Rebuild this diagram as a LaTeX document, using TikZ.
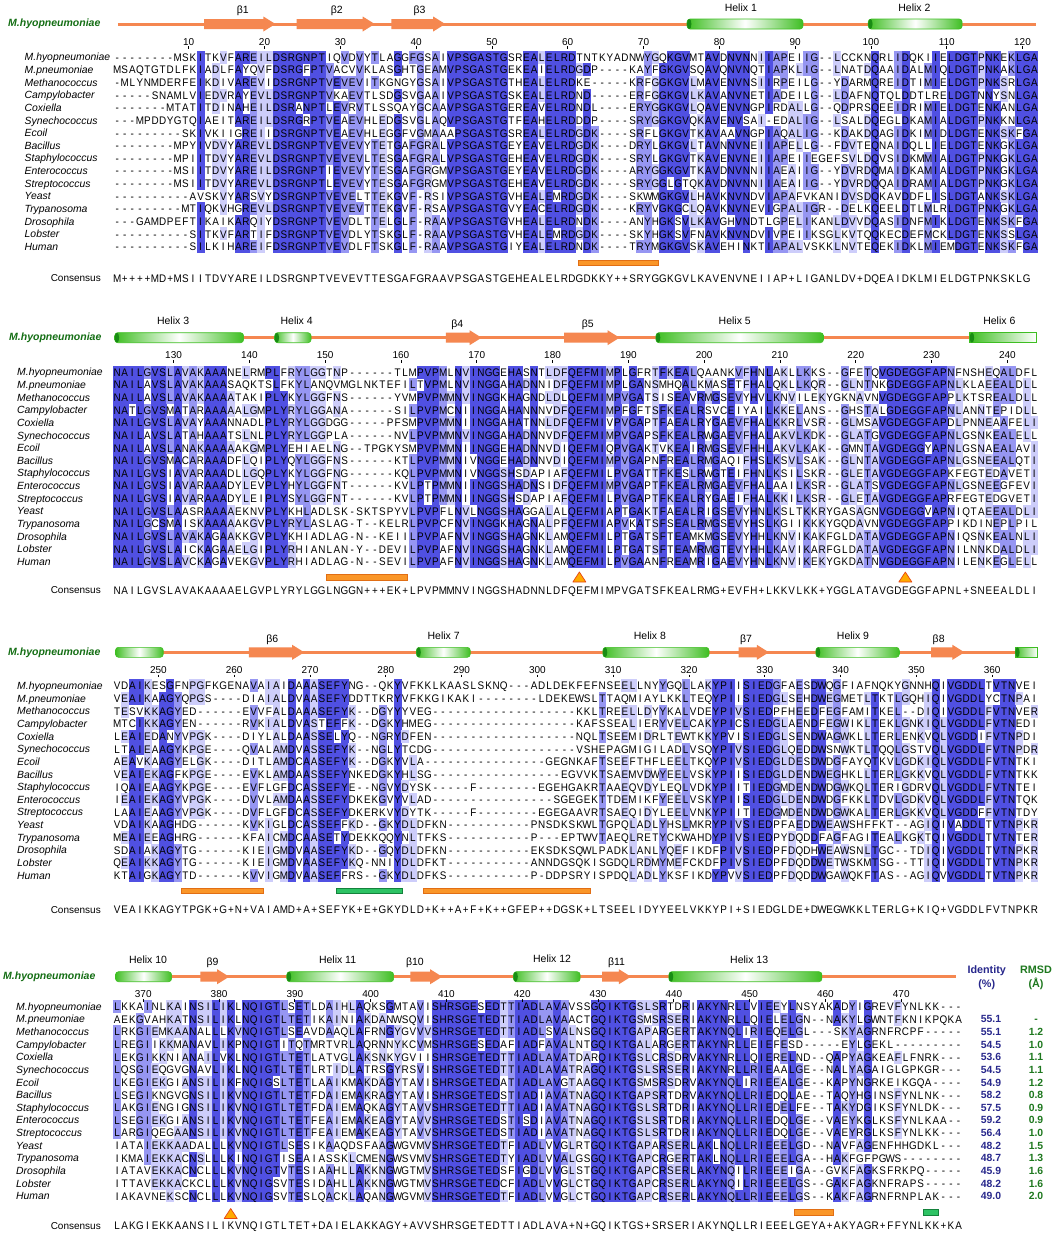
\documentclass[tikz,border=0pt]{standalone}
\usepackage{fontspec}
\setmainfont{Liberation Sans}
\newfontfamily\seqfont{Liberation Sans}[FakeStretch=0.9]
\usepackage{xcolor}
\usepackage{tikz}

\definecolor{seq_shade1}{RGB}{205, 205, 250}
\definecolor{seq_shade2}{RGB}{150, 150, 242}
\definecolor{seq_shade3}{RGB}{80, 80, 226}
\definecolor{ss_orange}{RGB}{245, 135, 80}
\definecolor{ss_green}{RGB}{62, 190, 34}
\definecolor{ss_dgreen}{RGB}{25, 140, 20}
\definecolor{title_green}{RGB}{20, 110, 20}
\definecolor{id_blue}{RGB}{40, 40, 140}
\definecolor{rmsd_green}{RGB}{30, 120, 30}
\definecolor{bar_orange}{RGB}{250, 150, 40}
\definecolor{bar_edge}{RGB}{225, 110, 20}
\definecolor{bar_green}{RGB}{45, 195, 100}
\definecolor{bar_gedge}{RGB}{20, 130, 60}
\definecolor{site_fill}{RGB}{255, 170, 0}
\definecolor{site_edge}{RGB}{230, 70, 20}

% alignment store and percent identity shading
\ExplSyntaxOn
\int_new:N \l_aln_col_int
\int_new:N \l_aln_cnt_int
\int_new:N \l_aln_max_int
\NewDocumentCommand \alnseq { m m m }
  {
    \int_zero:N \l_aln_col_int
    \tl_map_inline:nn {#3}
      {
        \int_incr:N \l_aln_col_int
        \tl_gset:cn { g_aln_#1_#2_ \int_use:N \l_aln_col_int _tl } {##1}
      }
    \int_compare:nNnT {#2} = {1}
      { \tl_gset:cx { g_aln_len_#1_tl } { \int_use:N \l_aln_col_int } }
  }
\NewDocumentCommand \alnshade { m }
  {
    \int_step_inline:nn { \use:c { g_aln_len_#1_tl } }
      {
        \int_zero:N \l_aln_max_int
        \int_step_inline:nn { 16 }
          {
            \int_zero:N \l_aln_cnt_int
            \str_if_eq:eeF { \use:c { g_aln_#1_####1_##1_tl } } { - }
              {
                \int_step_inline:nn { 16 }
                  {
                    \str_if_eq:eeT
                      { \use:c { g_aln_#1_####1_##1_tl } }
                      { \use:c { g_aln_#1_########1_##1_tl } }
                      { \int_incr:N \l_aln_cnt_int }
                  }
              }
            \tl_gset:cx { g_aln_n_#1_####1_##1_tl } { \int_use:N \l_aln_cnt_int }
            \int_compare:nNnT { \l_aln_cnt_int } > { \l_aln_max_int }
              { \int_set_eq:NN \l_aln_max_int \l_aln_cnt_int }
          }
        \int_step_inline:nn { 16 }
          {
            \tl_gset:cx { g_aln_s_#1_####1_##1_tl }
              {
                \int_compare:nNnTF { \use:c { g_aln_n_#1_####1_##1_tl } } = { \l_aln_max_int }
                  {
                    \int_compare:nNnTF { \l_aln_max_int } > { 12 } { 3 }
                      {
                        \int_compare:nNnTF { \l_aln_max_int } > { 9 } { 2 }
                          { \int_compare:nNnTF { \l_aln_max_int } > { 6 } { 1 } { 0 } }
                      }
                  }
                  { 0 }
              }
          }
      }
  }
\cs_new_protected:Npn \aln_cell:nn #1#2
  {
    \int_compare:nNnT { #1 } > { 0 }
      { \rlap { \color { seq_shade#1 } \rule [ -2.37pt ] { 7.9pt } { 12.95pt } } }
    \makebox [ 7.58pt ] { #2 }
  }
\cs_generate_variant:Nn \aln_cell:nn { ee }
\NewDocumentCommand \alnrow { m m }
  {
    \int_step_inline:nn { \use:c { g_aln_len_#1_tl } }
      { \aln_cell:ee { \use:c { g_aln_s_#1_#2_##1_tl } } { \use:c { g_aln_#1_#2_##1_tl } } }
  }
\NewDocumentCommand \alncons { m m }
  { \tl_gset:cn { g_aln_cons_#1_tl } {#2} }
\NewDocumentCommand \alnconsrow { m }
  { \tl_map_inline:cn { g_aln_cons_#1_tl } { \makebox [ 7.58pt ] {##1} } }
\ExplSyntaxOff

% block 1
\alnseq{1}{1}{--------MSKITKVFAREILDSRGNPTIQVDVYTLAGGFGSAIVPSGASTGSREALELRDTNTKYADNWYGQKGVMTAVDNVNNIIAPEIIG--LCCKNQRLIDQKIIELDGTPNKEKLGA}
\alnseq{1}{2}{MSAQTGTDLFKIADLFAYQVFDSRGFPTVACVVKLASGHTGEAMVPSGASTGEKEAIELRDGDP----KAYFGKGVSQAVQNVNQTIAPKLIG--LNATDQAAIDALMIQLDGTPNKAKLGA}
\alnseq{1}{3}{-MLYNMDERFEIKDIVAREVIDSRGNPTVEVEVITKGNGYGSAIVPSGASTGTHEALELRDKE-----KRFGGKGVLMAVENVNSIIRPEILG--YDARMQREIDTIMIELDGTPNKSRLGA}
\alnseq{1}{4}{-----SNAMLVIEDVRAYEVLDSRGNPTVKAEVTLSDGSVGAAIVPSGASTGSKEALELRDND-----ERFGGKGVLKAVANVNETIADEILG--LDAFNQTQLDDTLRELDGTNNYSNLGA}
\alnseq{1}{5}{-------MTATITDINAHEILDSRANPTLEVRVTLSSQAYGCAAVPSGASTGEREAVELRDNDL----ERYGGKGVLQAVENVNGPIRDALLG--QDPRSQEEIDRIMIELDGTENKANLGA}
\alnseq{1}{6}{---MPDDYGTQIAEITAREILDSRGRPTVEAEVHLEDGSVGLAQVPSGASTGTFEAHELRDDDP----SRYGGKGVQKAVENVSAI-EDALIG--LSALDQEGLDKAMIALDGTPNKKNLGA}
\alnseq{1}{7}{---------SKIVKIIGREIIDSRGNPTVEAEVHLEGGFVGMAAAPSGASTGSREALELRDGDK----SRFLGKGVTKAVAAVNGPIAQALIG--KDAKDQAGIDKIMIDLDGTENKSKFGA}
\alnseq{1}{8}{--------MPYIVDVYAREVLDSRGNPTVEVEVYTETGAFGRALVPSGASTGEYEAVELRDGDK----DRYLGKGVLTAVNNVNEIIAPELLG--FDVTEQNAIDQLLIELDGTENKGKLGA}
\alnseq{1}{9}{--------MPIITDVYAREVLDSRGNPTVEVEVLTESGAFGRALVPSGASTGEHEAVELRDGDK----SRYLGKGVTKAVENVNEIIAPEIIEGEFSVLDQVSIDKMMIALDGTPNKGKLGA}
\alnseq{1}{10}{--------MSIITDVYAREILDSRGNPTIEVEVYTESGAFGRGMVPSGASTGEYEAVELRDGDK----ARYGGKGVTKAVDNVNNIIAEAIIG--YDVRDQMAIDKAMIALDGTPNKGKLGA}
\alnseq{1}{11}{--------MSIITDVYAREVLDSRGNPTLEVEVYTESGAFGRGMVPSGASTGEHEAVELRDGDK----SRYGGLGTQKAVDNVNNIIAEAIIG--YDVRDQQAIDRAMIALDGTPNKGKLGA}
\alnseq{1}{12}{----------AVSKVYARSVYDSRGNPTVEVELTTEKGVF-RSIVPSGASTGVHEALEMRDGDK----SKWMGKGVLHAVKNVNDVIAPAFVKANIDVSDQKAVDDFLISLDGTANKSKLGA}
\alnseq{1}{13}{---------MTIQKVHGREVLDSRGNPTVEVEVTTEKGVF-RSAVPSGASTGVYEACELRDGDK----KRYVGKGCLQAVKNVNEVIGPALIGR--DELKQEELDTLMLRLDGTPNKGKLGA}
\alnseq{1}{14}{---GAMDPEFTIKAIKARQIYDSRGNPTVEVDLTTELGLF-RAAVPSGASTGVHEALELRDNDK----ANYHGKSVLKAVGHVNDTLGPELIKANLDVVDQASIDNFMIKLDGTENKSKFGA}
\alnseq{1}{15}{----------SITKVFARTIFDSRGNPTVEVDLYTSKGLF-RAAVPSGASTGVHEALEMRDGDK----SKYHGKSVFNAVKNVNDVIVPEIIKSGLKVTQQKECDEFMCKLDGTENKSSLGA}
\alnseq{1}{16}{----------SILKIHAREIFDSRGNPTVEVDLFTSKGLF-RAAVPSGASTGIYEALELRDNDK----TRYMGKGVSKAVEHINKTIAPALVSKKLNVTEQEKIDKLMIEMDGTENKSKFGA}
\alncons{1}{M++++MD+MSIITDVYAREILDSRGNPTVEVEVTTESGAFGRAAVPSGASTGEHEALELRDGDKKY++SRYGGKGVLKAVENVNEIIAP+LIGANLDV+DQEAIDKLMIELDGTPNKSKLG}

% block 2
\alnseq{2}{1}{NAILGVSLAVAKAAANELRMPLFRYLGGTNP------TLMPVPMLNVINGGEHASNTLDFQEFMIMPLGFRTFKEALQAANKVFHNLAKLLKKS--GFETQVGDEGGFAPNFNSHEQALDFL}
\alnseq{2}{2}{NAILAVSLAVAKAAASAQKTSLFKYLANQVMGLNKTEFILTVPMLNVINGGAHADNNIDFQEFMIMPLGANSMHQALKMASETFHALQKLLKQR--GLNTNKGDEGGFAPNLKLAEEALDLL}
\alnseq{2}{3}{NAILAVSLAVAKAAAATAKIPLYKYLGGFNS------YVMPVPMMNVINGGKHAGNDLDLQEFMIMPVGATSISEAVRMGSEVYHVLKNVILEKYGKNAVNVGDEGGFAPPLKTSREALDLL}
\alnseq{2}{4}{NATLGVSMATARAAAAALGMPLYRYLGGANA------SILPVPMCNIINGGAHANNNVDFQEFMIMPFGFTSFKEALRSVCEIYAILKKELANS--GHSTALGDEGGFAPNLANNTEPIDLL}
\alnseq{2}{5}{NAILGVSLAVAYAAANNADLPLYRYLGGDGG-----PFSMPVPMMNIINGGAHATNNLDFQEFMIVPVGAPTFAEALRYGAEVFHALKKRLVSR--GLMSAVGDEGGFAPDLPNNEAAFELI}
\alnseq{2}{6}{NAILAVSLATAHAAATSLNLPLYRYLGGPLA------NVLPVPMMNVINGGAHADNNVDFQEFMIMPVGAPSFKEALRWGAEVFHALAKVLKDK--GLATGVGDEGGFAPNLGSNKEALELL}
\alnseq{2}{7}{NAILAVSLANAKAAAAAKGMPLYEHIAELNG--TPGKYSMPVPMMNIINGGEHADNNVDIQEFMIQPVGAKTVKEAIRMGSEVFHHLAKVLKAK--GMNTAVGDEGGYAPNLGSNAEALAVI}
\alnseq{2}{8}{NAILGVSMACARAAADFLQIPLYQYLGGFNS------KTLPVPMMNIVNGGEHADNNVDIQEFMIMPVGAPNFREALRMGAQIFHSLKSVLSAK--GLNTAVGDEGGFAPNLGSNEEALQTI}
\alnseq{2}{9}{NAILGVSIAVARAAADLLGQPLYKYLGGFNG------KQLPVPMMNIVNGGSHSDAPIAFQEFMILPVGATTFKESLRWGTEIFHNLKSILSKR--GLETAVGDEGGFAPKFEGTEDAVETI}
\alnseq{2}{10}{NAILGVSIAVARAAADYLEVPLYHYLGGFNT------KVLPTPMMNIINGGSHADNSIDFQEFMIMPVGAPTFKEALRMGAEVFHALAAILKSR--GLATSVGDEGGFAPNLGSNEEGFEVI}
\alnseq{2}{11}{NAILGVSIAVARAAADYLEIPLYSYLGGFNT------KVLPTPMMNIINGGSHSDAPIAFQEFMILPVGAPTFKEALRYGAEIFHALKKILKSR--GLETAVGDEGGFAPRFEGTEDGVETI}
\alnseq{2}{12}{NAILGVSLAASRAAAAEKNVPLYKHLADLSK-SKTSPYVLPVPFLNVLNGGSHAGGALALQEFMIAPTGAKTFAEALRIGSEVYHNLKSLTKKRYGASAGNVGDEGGVAPNIQTAEEALDLI}
\alnseq{2}{13}{NAILGCSMAISKAAAAAKGVPLYRYLASLAG-T--KELRLPVPCFNVINGGKHAGNALPFQEFMIAPVKATSFSEALRMGSEVYHSLKGIIKKKYGQDAVNVGDEGGFAPPIKDINEPLPIL}
\alnseq{2}{14}{NAILGVSLAVAKAGAAKKGVPLYKHIADLAG-N--KEIILPVPAFNVINGGSHAGNKLAMQEFMILPTGATSFTEAMKMGSEVYHHLKNVIKAKFGLDATAVGDEGGFAPNIQSNKEALNLI}
\alnseq{2}{15}{NAILGVSLAICKAGAAELGIPLYRHIANLAN-Y--DEVILPVPAFNVINGGSHAGNKLAMQEFMILPTGATSFTEAMRMGTEVYHHLKAVIKARFGLDATAVGDEGGFAPNILNNKDALDLI}
\alnseq{2}{16}{NAILGVSLAVCKAGAVEKGVPLYRHIADLAG-N--SEVILPVPAFNVINGGSHAGNKLAMQEFMILPVGAANFREAMRIGAEVYHNLKNVIKEKYGKDATNVGDEGGFAPNILENKEGLELL}
\alncons{2}{NAILGVSLAVAKAAAAELGVPLYRYLGGLNGGN+++EK+LPVPMMNVINGGSHADNNLDFQEFMIMPVGATSFKEALRMG+EVFH+LKKVLKK+YGGLATAVGDEGGFAPNL+SNEEALDLI}

% block 3
\alnseq{3}{1}{VDAIKESGFNPGFKGENAVAIAIDAAASEFYNG--QKYVFKKLKAASLSKNQ---ADLDEKFEFNSEELLNYYGQLLAKYPIISIEDGFAESDWQGFIAFNQKYGNNHQIVGDDLTVTNVEI}
\alnseq{3}{2}{VEAIKAAGYQPGS----DIAIALDVAASEFYDDTTKRYVFKKGIKAKI--------LDEKEWSLTTAQMIAYLKKLTEQYPIISIEDGLSEHDWEGMETLTKTLGQHIQIVGDDLYCTNPAI}
\alnseq{3}{3}{TESVKKAGYED------EVVFALDAAASEFYK--DGYYYVEG-------------------KKLTREELLDYYKALVDEYPIVSIEDPFHEEDFEGFAMITKEL--DIQIVGDDLFVTNVER}
\alnseq{3}{4}{MTCIKKAGYEN------RVKIALDVASTEFFK--DGKYHMEG-------------------KAFSSEALIERYVELCAKYPICSIEDGLAENDFEGWIKLTEKLGNKIQLVGDDLFVTNEDI}
\alnseq{3}{5}{LEAIEDANYVPGK----DIYLALDAASSELYQ--NGRYDFEN-------------------NQLTSEEMIDRLTEWTKKYPVISIEDGLSENDWAGWKLLTERLENKVQLVGDDIFVTNPDI}
\alnseq{3}{6}{LTAIEAAGYKPGE----QVALAMDVASSEFYK--NGLYTCDG-------------------VSHEPAGMIGILADLVSQYPIVSIEDGLQEDDWSNWKTLTQQLGSTVQLVGDDLFVTNPDR}
\alnseq{3}{7}{AEAVKAAGYELGK----DITLAMDCAASEFYK--DGKYVLA----------------GEGNKAFTSEEFTHFLEELTKQYPIVSIEDGLDESDWDGFAYQTKVLGDKIQLVGDDLFVTNTKI}
\alnseq{3}{8}{VEAIEKAGFKPGE----EVKLAMDAASSEFYNKEDGKYHLSG-----------------EGVVKTSAEMVDWYEELVSKYPIISIEDGLDENDWEGHKLLTERLGKKVQLVGDDLFVTNTKK}
\alnseq{3}{9}{IQAIEAAGYKPGE----EVFLGFDCASSEFYE--NGVYDYSK-----F--------EGEHGAKRTAAEQVDYLEQLVDKYPIITIEDGMDENDWDGWKQLTERIGDRVQLVGDDLFVTNTEI}
\alnseq{3}{10}{IEAIEKAGYVPGK----DVVLAMDAASSEFYDKEKGVYVLAD----------------SGEGEKTTDEMIKFYEELVSKYPIISIEDGLDENDWDGFKKLTDVLGDKVQLVGDDLFVTNTQK}
\alnseq{3}{11}{LAAIEAAGYVPGK----DVFLGFDCASSEFYDKERKVYDYTK-----F--------EGEGAAVRTSAEQIDYLEELVNKYPIITIEDGMDENDWDGWKALTERLGKKVQLVGDDFFVTNTDY}
\alnseq{3}{12}{VDAIKAAGHDG------KVKIGLDCASSEFFKD--GKYDLDFKN-----------PNSDKSKWLTGPQLADLYHSLMKRYPIVSIEDPFAEDDWEAWSHFFKT--AGIQIVADDLTVTNPKR}
\alnseq{3}{13}{MEAIEEAGHRG------KFAICMDCAASETYDEKKQQYNLTFKS-----------P---EPTWVTAEQLRETYCKWAHDYPIVSIEDPYDQDDFAGFAGITEALKGKTQIVGDDLTVTNTER}
\alnseq{3}{14}{SDAIAKAGYTG------KIEIGMDVAASEFYKD--GQYDLDFKN-----------EKSDKSQWLPADKLANLYQEFIKDFPIVSIEDPFDQDHWEAWSNLTGC--TDIQIVGDDLTVTNPKR}
\alnseq{3}{15}{QEAIKKAGYTG------KIEIGMDVAASEFYKQ-NNIYDLDFKT-----------ANNDGSQKISGDQLRDMYMEFCKDFPIVSIEDPFDQDDWETWSKMTSG--TTIQIVGDDLTVTNPKR}
\alnseq{3}{16}{KTAIGKAGYTD------KVVIGMDVAASEFFRS--GKYDLDFKS-----------P-DDPSRYISPDQLADLYKSFIKDYPVVSIEDPFDQDDWGAWQKFTAS--AGIQVVGDDLTVTNPKR}
\alncons{3}{VEAIKKAGYTPGK+G+N+VAIAMD+A+SEFYK+E+GKYDLD+K++A+F+K++GFEP++DGSK+LTSEELIDYYEELVKKYPI+SIEDGLDE+DWEGWKKLTERLG+KIQ+VGDDLFVTNPKR}

% block 4
\alnseq{4}{1}{LKKAINLKAINSILIKLNQIGTLSETLDAIHLAQKSGMTAVISHRSGESEDTTIADLAVAVSSGQIKTGSLSRTDRIAKYNRLLVIEEYLNSYAKADYIGREVFYNLKK---}
\alnseq{4}{2}{AEKGVAHKATNSILIKLNQIGTLTETIKAINIAKDANWSQVISHRSGETEDTTIADLAVAACTGQIKTGSMSRSERIAKYNRLLQIELELGN--NAKYLGWNTFKNIKPQKA}
\alnseq{4}{3}{LRKGIEMKAANALLLKVNQIGTLSEAVDAAQLAFRNGYGVVVSHRSGETEDTTIADLSVALNSGQIKTGAPARGERTAKYNQLIRIEQELGL---SKYAGRNFRCPF-----}
\alnseq{4}{4}{LREGIIKKMANAVLIKPNQIGTITQTMRTVRLAQRNNYKCVMSHRSGESEDAFIADFAVALNTGQIKTGALARGERTAKYNRLLEIEFESD-----EYLGEKL---------}
\alnseq{4}{5}{LEKGIKKNIANAILVKLNQIGTLTETLATVGLAKSNKYGVIISHRSGETEDTTIADLAVATDARQIKTGSLCRSDRVAKYNRLLQIERELND--QAPYAGKEAFLFNRK---}
\alnseq{4}{6}{LQSGIEQGVGNAVLIKLNQIGTLTETLRTIDLATRSGYRSVISHRSGETEDTTIADLAVATRAGQIKTGSLSRSERIAKYNRLLRIEAALGE--NALYAGAIGLGPKGR---}
\alnseq{4}{7}{LKEGIEKGIANSILIKFNQIGSLTETLAAIKMAKDAGYTAVISHRSGETEDATIADLAVGTAAGQIKTGSMSRSDRVAKYNQLIRIEEALGE--KAPYNGRKEIKGQA----}
\alnseq{4}{8}{LSEGIKNGVGNSILIKVNQIGTLTETFDAIEMAKRAGYTAVISHRSGETEDSTIADIAVATNAGQIKTGAPSRTDRVAKYNQLLRIEDQLAE--TAQYHGINSFYNLNK---}
\alnseq{4}{9}{LAKGIENGIGNSILIKVNQIGTLTETFDAIEMAQKAGYTAVVSHRSGETEDTTIADIAVATNAGQIKTGSLSRTDRIAKYNQLLRIEDELFE--TAKYDGIKSFYNLDK---}
\alnseq{4}{10}{LSEGIEKGIANSILIKVNQIGTLTETFEAIEMAKEAGYTAVVSHRSGETEDSTISDIAVATNAGQIKTGSLSRTDRIAKYNQLLRIEDQLGE--VAEYKGLKSFYNLKAA--}
\alnseq{4}{11}{LARGIQEGAANSILIKVNQIGTLTETFEAIEMAKEAGYTAVVSHRSGETEDSTIADIAVATNAGQIKTGSLSRTDRIAKYNQLLRIEDQLGE--VAEYRGLKSFYNLKK---}
\alnseq{4}{12}{IATAIEKKAADALLLKVNQIGTLSESIKAAQDSFAAGWGVMVSHRSGETEDTFIADLVVGLRTGQIKTGAPARSERLAKLNQLLRIEEELGD--NAVFAGENFHHGDKL---}
\alnseq{4}{13}{IKMAIEKKACNSLLLKINQIGTISEAIASSKLCMENGWSVMVSHRSGETEDTYIADLVVALGSGQIKTGAPCRGERTAKLNQLLRIEEELGA--HAKFGFPGWS--------}
\alnseq{4}{14}{IATAVEKKACNCLLLKVNQIGTVTESIAAHLLAKKNGWGTMVSHRSGETEDSFIGDLVVGLSTGQIKTGAPCRSERLAKYNQILRIEEEIGA--GVKFAGKSFRKPQ-----}
\alnseq{4}{15}{ITTAVEKKACKCLLLKVNQIGSVTESIDAHLLAKKNGWGTMVSHRSGETEDCFIADLVVGLCTGQIKTGAPCRSERLAKYNQILRIEEELGS--GAKFAGKNFRAPS-----}
\alnseq{4}{16}{IAKAVNEKSCNCLLLKVNQIGSVTESLQACKLAQANGWGVMVSHRSGETEDTFIADLVVGLCTGQIKTGAPCRSERLAKYNQLLRIEEELGS--KAKFAGRNFRNPLAK---}
\alncons{4}{LAKGIEKKAANSILIKVNQIGTLTET+DAIELAKKAGY+AVVSHRSGETEDTTIADLAVA+N+GQIKTGS+SRSERIAKYNQLLRIEEELGEYA+AKYAGR+FFYNLKK+KA}

\alnshade{1}\alnshade{2}\alnshade{3}\alnshade{4}

% secondary structure elements, columns as positions
\newcommand{\helixbar}[4][]{%
  \shade[helixbody, #1] ({cx(#2)}, {#4-5}) rectangle ({cx(#3)}, {#4+5});}
\newcommand{\helixcap}[2]{%
  \fill[helixcap] ({cx(#1)+2.2}, #2) ellipse (2.2 and 5);}
\newcommand{\strandarrow}[3]{%
  \fill[strand] ({cx(#1)}, {#3-5}) -- ({cx(#2)-12}, {#3-5}) -- ({cx(#2)-12}, {#3-7.5})
    -- ({cx(#2)}, #3) -- ({cx(#2)-12}, {#3+7.5}) -- ({cx(#2)-12}, {#3+5})
    -- ({cx(#1)}, {#3+5}) -- cycle;}
\newcommand{\sitemark}[2]{%
  \filldraw[site] ({cx(#1)-6.5}, {#2+5}) -- ({cx(#1)+6.5}, {#2+5}) -- ({cx(#1)}, {#2-5}) -- cycle;}

\begin{document}
\begin{tikzpicture}[x=1pt, y=-1pt,
    declare function={cx(\c)=117+(\c-1)*7.58;},
    title/.style={anchor=west, inner sep=0, text=title_green,
                  font=\fontsize{10.5}{12}\selectfont\bfseries\itshape},
    seqname/.style={anchor=base west, inner sep=0, font=\fontsize{10.4}{12}\selectfont\itshape},
    seqrow/.style={anchor=base west, inner sep=0, font=\seqfont\fontsize{11}{13}\selectfont},
    conslabel/.style={anchor=base east, inner sep=0, font=\fontsize{10}{12}\selectfont},
    rulernum/.style={anchor=base, inner sep=0, font=\fontsize{10}{11}\selectfont},
    rulertick/.style={line width=0.8pt},
    sslabel/.style={anchor=base, inner sep=0, font=\fontsize{10.5}{12}\selectfont},
    ssline/.style={line width=3pt, color=ss_orange},
    strand/.style={fill=ss_orange},
    helixbody/.style={left color=ss_green, right color=ss_green, middle color=white,
                      draw=ss_green, line width=0.6pt, rounded corners=3pt},
    helixopen/.style={right color=white, middle color=ss_green!50!white},
    helixcap/.style={fill=ss_dgreen},
    obar/.style={fill=bar_orange, draw=bar_edge, line width=0.5pt},
    gbar/.style={fill=bar_green, draw=bar_gedge, line width=0.5pt},
    site/.style={fill=site_fill, draw=site_edge, line width=0.7pt, line join=round},
    idhead/.style={anchor=base, inner sep=0, font=\fontsize{10.8}{12}\selectfont\bfseries},
    idval/.style={anchor=base, inner sep=0, font=\fontsize{10.4}{12}\selectfont\bfseries},
  ]
  \useasboundingbox (0,0) rectangle (1052,1235);
  \fill[white] (0,0) rectangle (1052,1235);

  % the four alignment blocks
  \foreach \bk/\ly/\ry/\cy/\nx/\tx/\off/\nk in
      {1/24/57.3/278.3/24.5/8/0/12, 2/337.7/372.3/590.3/17/9/122/12,
       3/652.3/686/910/17/8/244/12, 4/976.7/1006.7/1226/16/3/366/11} {
    \node[title] (t\bk) at (\tx, \ly) {M.hyopneumoniae};
    \foreach \nm [count=\rw] in {M.hyopneumoniae, M.pneumoniae, Methanococcus,
        Campylobacter, Coxiella, Synechococcus, Ecoil, Bacillus, Staphylococcus,
        Enterococcus, Streptococcus, Yeast, Trypanosoma, Drosophila, Lobster, Human}
      \node[seqname] (n\bk-\rw) at (\nx, {\ry+(\rw-1)*12.63+3.6}) {\nm};
    \foreach \rw in {1,...,16}
      \node[seqrow] (s\bk-\rw) at (113.2, {\ry+(\rw-1)*12.63+3.95}) {\alnrow{\bk}{\rw}};
    \node[conslabel] (cl\bk) at (101, \cy+3.6) {Consensus};
    \node[seqrow] (c\bk) at (113.2, \cy+3.95) {\alnconsrow{\bk}};
    \foreach \k in {1,...,\nk} {
      \pgfmathtruncatemacro\num{120*(\bk-1)+10*\k}
      \pgfmathsetmacro\lc{\num-\off}
      \node[rulernum] (r\bk-\k) at ({cx(\lc)+3.5}, \ly+21) {\num};
      \draw[rulertick] ({cx(\lc)+3.5}, \ly+22.3) -- ++(0,2.8);
    }
  }

  % block 1 structure
  \draw[ssline] ({cx(1.1)}, 24) -- ({cx(122.2)}, 24);
  \strandarrow{12.5}{21.9}{24}
  \strandarrow{24.7}{35.0}{24}
  \strandarrow{37.2}{44.3}{24}
  \helixbar{76.2}{91.5}{24} \helixcap{76.2}{24}
  \helixbar{100.1}{112.5}{24} \helixcap{100.1}{24}
  \node[sslabel] (lb1) at ({cx(17.6)}, 13) {β1};
  \node[sslabel] (lb2) at ({cx(30.0)}, 13) {β2};
  \node[sslabel] (lb3) at ({cx(40.9)}, 13) {β3};
  \node[sslabel] (lh1) at ({cx(83.3)}, 11) {Helix 1};
  \node[sslabel] (lh2) at ({cx(106.2)}, 11) {Helix 2};
  \fill[obar] ({cx(61.8)}, 260.1) rectangle ({cx(72.4)}, 265.3);

  % block 2 structure
  \draw[ssline] ({cx(0.7)}, 337.7) -- ({cx(122.3)}, 337.7);
  \helixbar{0.7}{17.7}{337.7} \helixcap{0.7}{337.7}
  \helixbar{21.8}{26.6}{337.7} \helixcap{21.8}{337.7}
  \strandarrow{44.4}{49.1}{337.7}
  \strandarrow{60.0}{67.3}{337.7}
  \helixbar{72.1}{94.2}{337.7} \helixcap{72.1}{337.7}
  \helixbar[helixopen, rounded corners=0pt]{113.5}{122.3}{337.7} \helixcap{113.5}{337.7}
  \node[sslabel] (lh3) at ({cx(8.4)}, 324.5) {Helix 3};
  \node[sslabel] (lh4) at ({cx(24.7)}, 324.5) {Helix 4};
  \node[sslabel] (lb4) at ({cx(45.9)}, 327.5) {β4};
  \node[sslabel] (lb5) at ({cx(63.1)}, 327.5) {β5};
  \node[sslabel] (lh5) at ({cx(82.5)}, 324.5) {Helix 5};
  \node[sslabel] (lh6) at ({cx(117.4)}, 324.5) {Helix 6};
  \fill[obar] ({cx(28.6)}, 574.7) rectangle ({cx(39.3)}, 579.9);
  \sitemark{62}{577}
  \sitemark{105}{577}

  % block 3 structure
  \draw[ssline] ({cx(0.8)}, 652.3) -- ({cx(122.4)}, 652.3);
  \helixbar{0.8}{7.1}{652.3}
  \strandarrow{18.4}{25.7}{652.3}
  \helixbar{40.5}{47.6}{652.3} \helixcap{40.5}{652.3}
  \helixbar{65.1}{79.1}{652.3} \helixcap{65.1}{652.3}
  \strandarrow{83.0}{87.0}{652.3}
  \helixbar{93.2}{104.2}{652.3} \helixcap{93.2}{652.3}
  \strandarrow{108.4}{112.8}{652.3}
  \helixbar[helixopen, rounded corners=0pt]{119.5}{122.4}{652.3} \helixcap{119.5}{652.3}
  \node[sslabel] (lb6) at ({cx(21.5)}, 642) {β6};
  \node[sslabel] (lh7) at ({cx(44.1)}, 639.5) {Helix 7};
  \node[sslabel] (lh8) at ({cx(71.3)}, 639.5) {Helix 8};
  \node[sslabel] (lb7) at ({cx(84.0)}, 642) {β7};
  \node[sslabel] (lh9) at ({cx(98.1)}, 639.5) {Helix 9};
  \node[sslabel] (lb8) at ({cx(109.4)}, 642) {β8};
  \fill[obar] ({cx(9.5)}, 888.1) rectangle ({cx(20.3)}, 893.3);
  \fill[gbar] ({cx(29.9)}, 888.1) rectangle ({cx(38.6)}, 893.3);
  \fill[obar] ({cx(41.4)}, 888.1) rectangle ({cx(63.4)}, 893.3);

  % block 4 structure
  \draw[ssline] ({cx(0.8)}, 976.7) -- ({cx(111.7)}, 976.7);
  \helixbar{0.8}{8.2}{976.7}
  \strandarrow{12.0}{15.8}{976.7}
  \helixbar{23.4}{37.5}{976.7} \helixcap{23.4}{976.7}
  \strandarrow{39.7}{43.9}{976.7}
  \helixbar{53.3}{62.1}{976.7} \helixcap{53.3}{976.7}
  \strandarrow{65.0}{68.8}{976.7}
  \helixbar{73.8}{94.0}{976.7} \helixcap{73.8}{976.7}
  \node[sslabel] (lh10) at ({cx(5.1)}, 963.5) {Helix 10};
  \node[sslabel] (lb9) at ({cx(13.6)}, 965) {β9};
  \node[sslabel] (lh11) at ({cx(30.1)}, 963) {Helix 11};
  \node[sslabel] (lb10) at ({cx(40.3)}, 965) {β10};
  \node[sslabel] (lh12) at ({cx(58.4)}, 962.5) {Helix 12};
  \node[sslabel] (lb11) at ({cx(66.9)}, 965) {β11};
  \node[sslabel] (lh13) at ({cx(84.4)}, 963) {Helix 13};
  \fill[obar] ({cx(90.3)}, 1209.7) rectangle ({cx(95.5)}, 1214.9);
  \fill[gbar] ({cx(107.4)}, 1209.7) rectangle ({cx(109.4)}, 1214.9);
  \sitemark{16}{1213.5}

  % identity and RMSD columns
  \node[idhead, text=id_blue] (idh) at (986.7, 973) {Identity};
  \node[idhead, text=id_blue] (idp) at (986.7, 987) {(\%)};
  \node[idhead, text=rmsd_green] (rmh) at (1036, 973) {RMSD};
  \node[idhead, text=rmsd_green] (rmp) at (1036, 987) {(Å)};
  \foreach \iv/\rv [count=\rw from 2] in {55.1/-, 55.1/1.2, 54.5/1.0, 53.6/1.1,
      54.5/1.1, 54.9/1.2, 58.2/0.8, 57.5/0.9, 59.2/0.9, 56.4/1.0, 48.2/1.5,
      48.7/1.3, 45.9/1.6, 48.2/1.6, 49.0/2.0} {
    \node[idval, text=id_blue] (iv\rw) at (991, {1006.7+(\rw-1)*12.63+3.6}) {\iv};
    \node[idval, text=rmsd_green] (rv\rw) at (1036, {1006.7+(\rw-1)*12.63+3.6}) {\rv};
  }
\end{tikzpicture}
\end{document}
